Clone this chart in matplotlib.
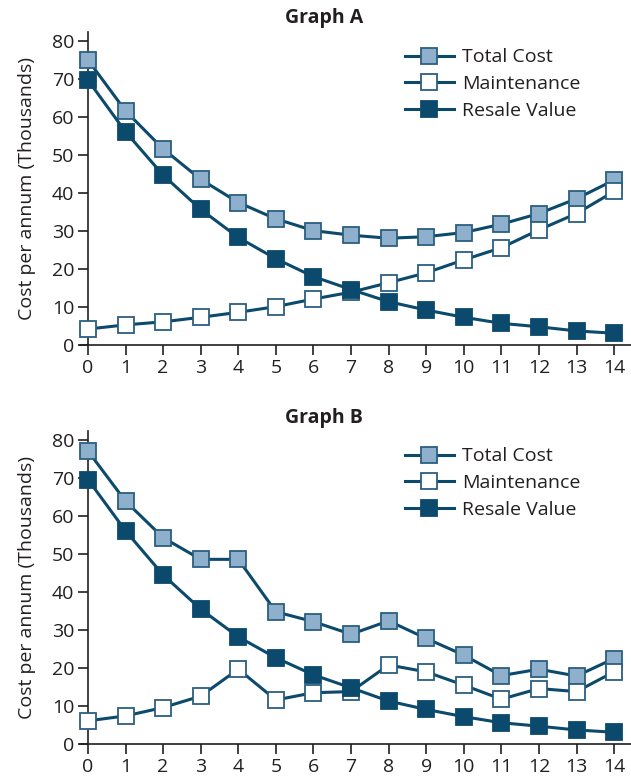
import matplotlib
matplotlib.use("Agg")
import matplotlib.pyplot as plt

# ---------------------------------------------------------------------------- #
# DATA

years = list(range(15))

total_a = [75.0, 61.6, 51.6, 43.6, 37.5, 33.2, 30.1, 28.9, 28.1, 28.5, 29.6, 31.8, 34.6, 38.5, 43.4]
maint_a = [4.2, 5.3, 6.1, 7.3, 8.6, 10.1, 12.1, 13.9, 16.4, 19.0, 22.4, 25.6, 30.3, 34.6, 40.4]
resale_a = [69.7, 56.1, 44.7, 35.7, 28.3, 22.7, 18.0, 14.6, 11.4, 9.2, 7.3, 5.7, 4.8, 3.7, 3.1]

total_b = [77.1, 63.9, 54.3, 48.6, 48.6, 34.8, 32.2, 28.9, 32.4, 27.8, 23.4, 18.0, 19.7, 17.9, 22.5]
maint_b = [6.1, 7.4, 9.6, 12.6, 19.7, 11.6, 13.5, 13.8, 20.8, 19.0, 15.5, 11.8, 14.6, 13.8, 19.0]
resale_b = [69.6, 56.1, 44.5, 35.5, 28.2, 22.7, 18.2, 14.8, 11.3, 9.1, 7.2, 5.6, 4.7, 3.7, 3.1]

series_names = ["Total Cost", "Maintenance", "Resale Value"]
titles = ["Graph A", "Graph B"]
y_ticks = [0, 10, 20, 30, 40, 50, 60, 70, 80]

# ---------------------------------------------------------------------------- #
# STYLE

plt.rcParams['font.family'] = ['Open Sans', 'DejaVu Sans']
line_col = '#0b4a6c'
fills = ['#8fb0cc', '#ffffff', '#0b4a6c']
edges = ['#2a5f80', '#2a5f80', '#0b4a6c']
text_col = '#231f20'
fs = 14

fig = plt.figure(figsize=(6.31, 7.76), dpi=100)

panels = [
    (titles[0], [total_a, maint_a, resale_a], 0.5554, 0.977),
    (titles[1], [total_b, maint_b, resale_b], 0.0412, 0.461),
]

for title, data, bottom, title_y in panels:
    ax = fig.add_axes([0.1263, bottom, 0.8737, 0.404])
    for k, vals in enumerate(data):
        ax.plot(years, vals, color=line_col, linewidth=2.2, marker='s',
                markersize=11.5, markerfacecolor=fills[k],
                markeredgecolor=edges[k], markeredgewidth=1.3,
                label=series_names[k], clip_on=False, zorder=3 + k)

    ax.set_xlim(-0.22, 14.45)
    ax.set_ylim(0, 82.5)
    ax.set_xticks(years)
    ax.set_yticks(y_ticks)
    ax.spines['left'].set_position(('data', 0))
    ax.spines['right'].set_visible(False)
    ax.spines['top'].set_visible(False)
    for s in ['left', 'bottom']:
        ax.spines[s].set_color(text_col)
        ax.spines[s].set_linewidth(1.2)
    ax.tick_params(axis='both', direction='out', length=7, width=1.2,
                   colors=text_col, labelsize=fs, pad=3)
    ax.set_ylabel("Cost per annum (Thousands)", fontsize=fs, color=text_col)
    ax.yaxis.set_label_coords(-0.079, 0.5)

    ax.legend(loc='upper left', bbox_to_anchor=(0.59, 0.946), frameon=False,
              fontsize=fs, handlelength=2.5, handletextpad=0.45,
              labelspacing=0.45, borderpad=0, borderaxespad=0,
              labelcolor=text_col)

    fig.text(0.513, title_y, title, ha='center', va='center', fontsize=fs,
             fontweight='bold', color=text_col)

fig.savefig("out.png", dpi=100)
